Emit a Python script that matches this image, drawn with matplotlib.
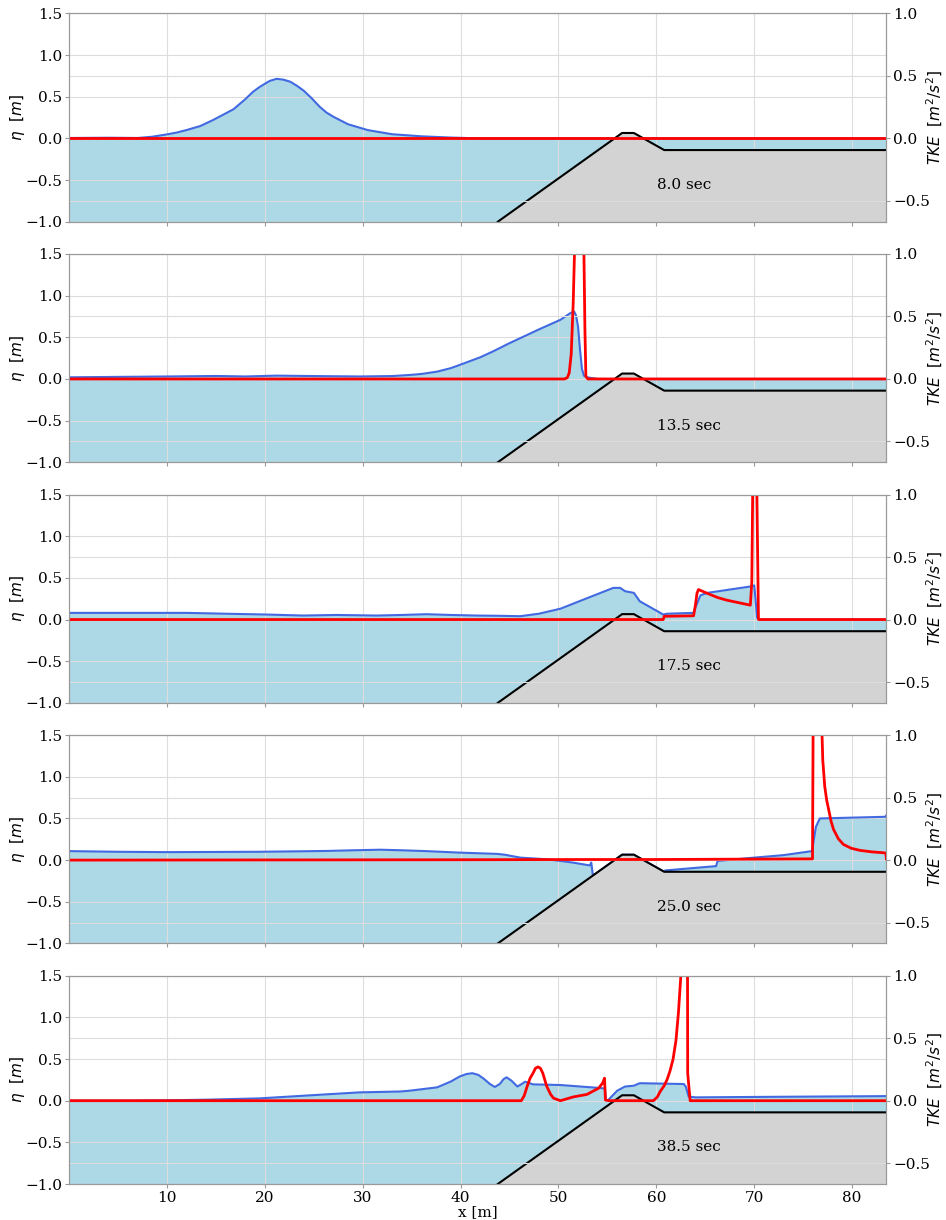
import numpy as np
import matplotlib
matplotlib.use('Agg')
import matplotlib.pyplot as plt

plt.rcParams['font.family'] = 'serif'

# Bathymetry (same for all snapshots)
x_bed = [43.8, 56.5, 57.7, 60.8, 83.5]
z_bed = [-1.0, 0.065, 0.065, -0.14, -0.14]

times = [8.0, 13.5, 17.5, 25.0, 38.5]

# 8.0 sec
x_eta_1 = [0, 4, 7, 8.5, 10, 11, 12, 13.4, 14.7, 16, 16.8, 18, 18.8, 19.5, 20.5, 21.2, 21.9,
           22.6, 23.3, 24, 24.8, 25.6, 26.3, 27, 28.5, 30.5, 33, 36, 39, 42, 83.5]
eta_1 = [0.005, 0.008, 0.005, 0.02, 0.048, 0.07, 0.1, 0.148, 0.22, 0.3, 0.35, 0.47, 0.56, 0.62,
         0.69, 0.715, 0.705, 0.68, 0.63, 0.57, 0.48, 0.38, 0.31, 0.26, 0.17, 0.1, 0.05, 0.025,
         0.01, 0.0, 0.0]
x_tke_1 = [0, 83.5]
tke_1 = [0, 0]

# 13.5 sec
x_eta_2 = [0, 5, 10, 15.1, 18, 21.2, 25, 29.7, 33, 34.8, 36, 37.6, 39, 39.9, 42, 43.3, 45, 48.1,
           50.2, 51.2, 51.6, 51.8, 52.0, 52.2, 52.4, 52.6, 52.9, 54, 83.5]
eta_2 = [0.02, 0.025, 0.03, 0.036, 0.03, 0.04, 0.035, 0.03, 0.035, 0.048, 0.06, 0.088, 0.13, 0.168,
         0.26, 0.33, 0.43, 0.6, 0.71, 0.79, 0.81, 0.76, 0.63, 0.35, 0.12, 0.04, 0.02, 0.0, 0.0]
x_tke_2 = [0, 50.6, 50.9, 51.1, 51.3, 51.5, 51.7, 52.1, 52.55, 52.7, 52.8, 53.0, 83.5]
tke_2 = [0, 0, 0.01, 0.05, 0.2, 0.6, 1.2, 2.5, 1.3, 0.4, 0.02, 0, 0]

# 17.5 sec
x_eta_3 = [0, 5, 10, 12, 16, 20.2, 23.9, 27.3, 31.4, 34, 36.5, 39, 41.6, 44, 46.1, 48, 50.2, 53,
           55.6, 56.3, 56.8, 57.7, 58.3, 59.5, 60.7, 61.1, 63.8, 63.9, 64.5, 65.2, 67.5, 69.8,
           70.0, 70.3, 70.5, 83.5]
eta_3 = [0.08, 0.08, 0.08, 0.08, 0.07, 0.06, 0.048, 0.055, 0.048, 0.055, 0.064, 0.055, 0.048,
         0.045, 0.04, 0.07, 0.13, 0.26, 0.38, 0.38, 0.34, 0.32, 0.22, 0.14, 0.06, 0.07, 0.08,
         0.12, 0.29, 0.32, 0.36, 0.40, 0.41, 0.02, 0.0, 0.0]
x_tke_3 = [0, 60.7, 60.8, 63.8, 64.0, 64.15, 64.3, 64.6, 65.5, 66.3, 67.2, 68.4, 69.6, 69.75,
           69.85, 70.0, 70.26, 70.43, 70.6, 83.5]
tke_3 = [0, 0, 0.026, 0.03, 0.12, 0.21, 0.24, 0.23, 0.2, 0.175, 0.155, 0.135, 0.115, 0.3, 1.1,
         3.0, 1.05, 0.0, 0.0, 0.0]

# 25.0 sec
x_eta_4 = [0, 5, 10, 15, 19.4, 23, 26.3, 29, 31.8, 34, 36.5, 39.9, 43.7, 44.5, 46.1, 48.8, 50.2,
           51.5, 53.2, 53.35, 53.5, 53.6, 56.5, 57.7, 60.8, 60.9, 66.1, 66.25, 70, 73, 75.9, 76.3,
           76.7, 80, 83.4, 83.5]
eta_4 = [0.108, 0.1, 0.096, 0.098, 0.1, 0.105, 0.11, 0.118, 0.125, 0.118, 0.108, 0.09, 0.075,
         0.065, 0.03, 0.01, -0.01, -0.03, -0.064, -0.03, -0.17, -0.18, 0.065, 0.065, -0.14,
         -0.124, -0.072, -0.01, 0.03, 0.06, 0.108, 0.4, 0.5, 0.51, 0.52, 0.54]
x_tke_4 = [0, 40, 53, 60, 75.95, 76.1, 76.5, 76.85, 77.0, 77.2, 77.4, 77.6, 77.85, 78.1, 78.6,
           79.1, 79.9, 80.8, 82.0, 83.2, 83.45, 83.5]
tke_4 = [0, 0.003, 0.005, 0.005, 0.01, 2.5, 3.0, 1.2, 0.8, 0.59, 0.48, 0.405, 0.31, 0.245, 0.17,
         0.126, 0.095, 0.078, 0.066, 0.059, 0.055, 0.01]

# 38.5 sec
x_eta_5 = [0, 5, 9.3, 14, 19.5, 24, 29.7, 33.8, 34.8, 37.6, 39, 39.9, 40.6, 41.2, 41.8, 42.3,
           43.0, 43.5, 44.0, 44.4, 44.7, 45.2, 45.8, 46.1, 46.6, 47.4, 50.2, 54.3, 54.75, 54.85,
           55.1, 56, 56.8, 57.7, 58.3, 62.8, 63.0, 63.3, 64, 70, 83.5]
eta_5 = [0.0, 0.0, 0.003, 0.012, 0.028, 0.06, 0.1, 0.11, 0.12, 0.16, 0.23, 0.29, 0.32, 0.33,
         0.31, 0.27, 0.2, 0.165, 0.2, 0.26, 0.28, 0.24, 0.17, 0.19, 0.228, 0.196, 0.188, 0.152,
         0.145, 0.0, 0.01, 0.12, 0.17, 0.18, 0.21, 0.2, 0.17, 0.05, 0.04, 0.045, 0.055]
x_tke_5 = [0, 46.2, 46.5, 46.8, 47.1, 47.4, 47.65, 47.9, 48.15, 48.4, 48.8, 49.2, 49.5, 50.2,
           51.5, 52.9, 54.1, 54.5, 54.7, 54.8, 55.2, 59.7, 60.1, 60.4, 60.8, 61.1, 61.4, 61.7,
           62.0, 62.25, 62.5, 62.9, 63.15, 63.2, 63.45, 63.7, 83.5]
tke_5 = [0, 0, 0.04, 0.115, 0.18, 0.22, 0.26, 0.27, 0.26, 0.22, 0.115, 0.05, 0.02, 0.0, 0.03,
         0.05, 0.1, 0.14, 0.18, 0.005, 0.0, 0.0, 0.03, 0.075, 0.12, 0.17, 0.24, 0.33, 0.48, 0.7,
         1.0, 2.5, 2.5, 0.22, 0.0, 0.0, 0.0]

x_eta = [x_eta_1, x_eta_2, x_eta_3, x_eta_4, x_eta_5]
etas = [eta_1, eta_2, eta_3, eta_4, eta_5]
x_tke = [x_tke_1, x_tke_2, x_tke_3, x_tke_4, x_tke_5]
tkes = [tke_1, tke_2, tke_3, tke_4, tke_5]

fig, axs = plt.subplots(5, 1, sharex=True, figsize=(9.46, 12.2), dpi=100)
fig.subplots_adjust(left=0.073, right=0.937, top=0.989, bottom=0.0295, hspace=0.155)

for i, ax in enumerate(axs):
    ax.fill_between(x_eta[i], -1, etas[i], color='lightblue', lw=0, zorder=1)
    ax.plot(x_eta[i], etas[i], color='royalblue', lw=1.5, zorder=2)
    ax.fill_between(x_bed, -1, z_bed, color='lightgray', lw=0, zorder=2.2)
    ax.plot(x_bed, z_bed, color='black', lw=1.5, zorder=2.3)
    ax.text(60.1, -0.56, '%.1f sec' % times[i], fontsize=11, va='center', zorder=3)
    ax.set_xlim(0, 83.5)
    ax.set_ylim(-1, 1.5)
    ax.set_yticks(np.arange(-1, 1.51, 0.5))
    ax.set_ylabel(r'$\eta$  $[m]$', fontsize=11)
    ax.yaxis.set_label_coords(-0.052, 0.5)
    ax.grid(True, color='#dddddd', lw=0.8)
    ax.set_axisbelow('line')

    ax2 = ax.twinx()
    ax2.plot(x_tke[i], tkes[i], color='red', lw=2)
    ax2.set_ylim(-2 / 3, 1.0)
    ax2.set_yticks([-0.5, 0.0, 0.5, 1.0])
    ax2.set_ylabel(r'$TKE$  $[m^2/s^2]$', fontsize=11)
    ax2.yaxis.set_label_coords(1.047, 0.5)
    ax2.grid(True, color='#dddddd', lw=0.8)
    ax2.set_axisbelow('line')

    for a in (ax, ax2):
        a.tick_params(labelsize=11, length=3, color='0.6', pad=2)
        for s in a.spines.values():
            s.set_color('0.6')

axs[-1].set_xticks(range(10, 81, 10))
axs[-1].set_xlabel('x [m]', fontsize=11, labelpad=0)

plt.savefig('out.png', dpi=100)
